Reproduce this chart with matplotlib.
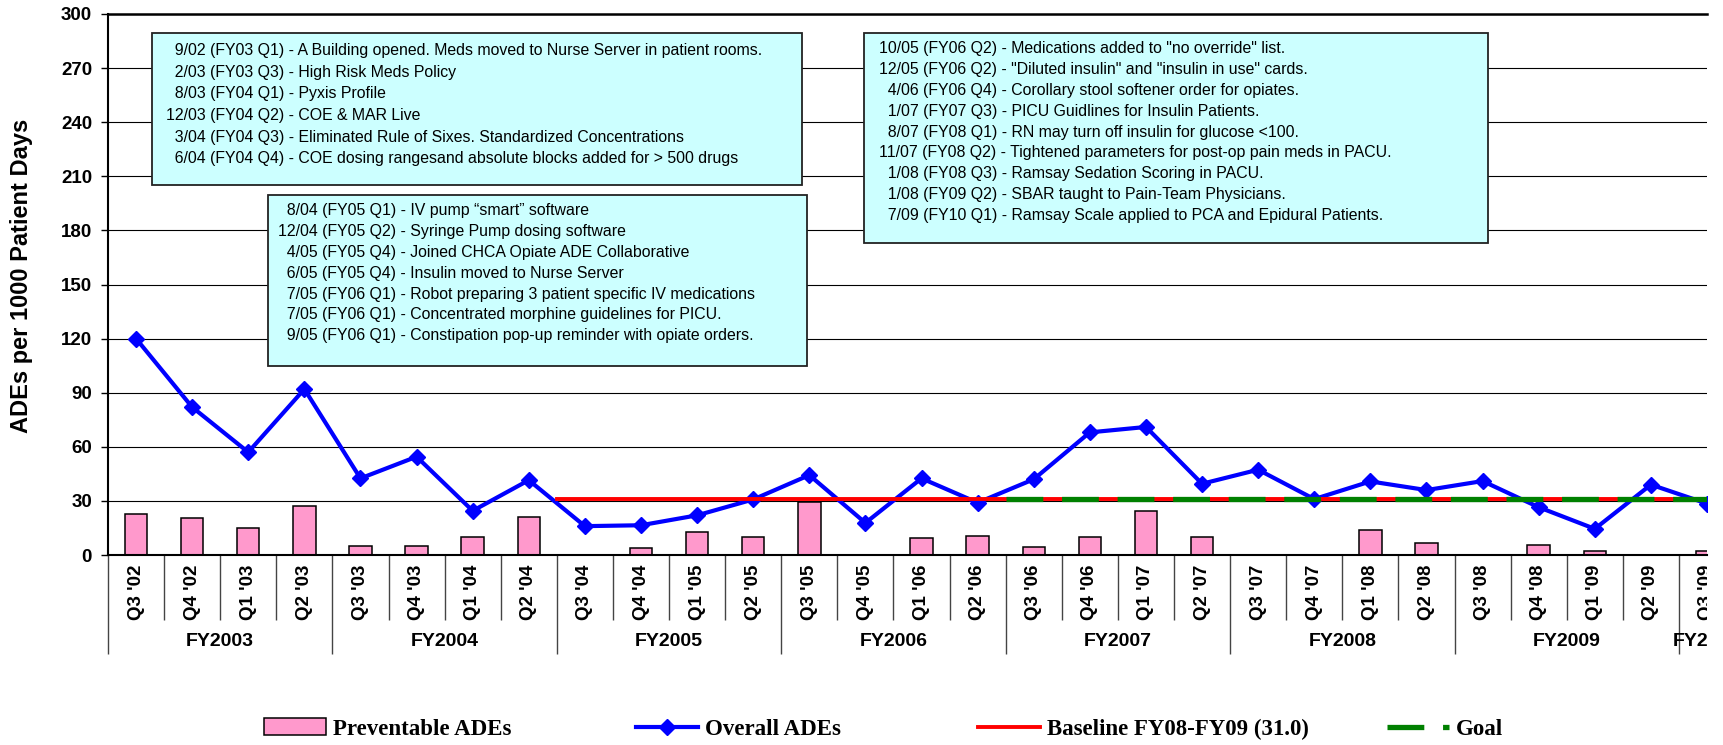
#!/usr/bin/env python3
import matplotlib
matplotlib.use("Agg")
import matplotlib.pyplot as plt
from matplotlib.patches import Rectangle
from matplotlib.transforms import Bbox, TransformedBbox
import numpy as np

# ---- data ----
quarters = ["Q3 '02", "Q4 '02", "Q1 '03", "Q2 '03",
            "Q3 '03", "Q4 '03", "Q1 '04", "Q2 '04",
            "Q3 '04", "Q4 '04", "Q1 '05", "Q2 '05",
            "Q3 '05", "Q4 '05", "Q1 '06", "Q2 '06",
            "Q3 '06", "Q4 '06", "Q1 '07", "Q2 '07",
            "Q3 '07", "Q4 '07", "Q1 '08", "Q2 '08",
            "Q3 '08", "Q4 '08", "Q1 '09", "Q2 '09",
            "Q3 '09"]
fiscal_years = (["FY2003"] * 4 + ["FY2004"] * 4 + ["FY2005"] * 4 +
                ["FY2006"] * 4 + ["FY2007"] * 4 + ["FY2008"] * 4 +
                ["FY2009"] * 4 + ["FY2010"])
overall_ades = [120, 82, 57, 92, 42.5, 54.5, 24.5, 41.5,
                16, 16.5, 22, 30.8, 44.3, 17.8, 42.5, 29,
                42, 68, 71, 39.5, 47.3, 31, 40.8, 36,
                41, 26.5, 14.5, 39, 28.5]
preventable_ades = [23, 20.3, 15, 27, 5, 5.2, 10, 20.8,
                    0, 4, 13, 10, 29.2, 0, 9.3, 10.4,
                    4.3, 10.2, 24.2, 10, 0, 0, 13.7, 6.5,
                    0, 5.6, 2, 0, 2.4]
baseline_value = 31.0
baseline_from = "Q3 '04"
goal_value = 31.0
goal_from = "Q3 '06"

notes_1 = ["  9/02 (FY03 Q1) - A Building opened. Meds moved to Nurse Server in patient rooms.",
           "  2/03 (FY03 Q3) - High Risk Meds Policy",
           "  8/03 (FY04 Q1) - Pyxis Profile",
           "12/03 (FY04 Q2) - COE & MAR Live",
           "  3/04 (FY04 Q3) - Eliminated Rule of Sixes. Standardized Concentrations",
           "  6/04 (FY04 Q4) - COE dosing rangesand absolute blocks added for > 500 drugs"]
notes_2 = ["  8/04 (FY05 Q1) - IV pump \u201csmart\u201d software",
           "12/04 (FY05 Q2) - Syringe Pump dosing software",
           "  4/05 (FY05 Q4) - Joined CHCA Opiate ADE Collaborative",
           "  6/05 (FY05 Q4) - Insulin moved to Nurse Server",
           "  7/05 (FY06 Q1) - Robot preparing 3 patient specific IV medications",
           "  7/05 (FY06 Q1) - Concentrated morphine guidelines for PICU.",
           "  9/05 (FY06 Q1) - Constipation pop-up reminder with opiate orders."]
notes_3 = ["10/05 (FY06 Q2) - Medications added to \"no override\" list.",
           "12/05 (FY06 Q2) - \"Diluted insulin\" and \"insulin in use\" cards.",
           "  4/06 (FY06 Q4) - Corollary stool softener order for opiates.",
           "  1/07 (FY07 Q3) - PICU Guidlines for Insulin Patients.",
           "  8/07 (FY08 Q1) - RN may turn off insulin for glucose <100.",
           "11/07 (FY08 Q2) - Tightened parameters for post-op pain meds in PACU.",
           "  1/08 (FY08 Q3) - Ramsay Sedation Scoring in PACU.",
           "  1/08 (FY09 Q2) - SBAR taught to Pain-Team Physicians.",
           "  7/09 (FY10 Q1) - Ramsay Scale applied to PCA and Epidural Patients."]

# ---- style ----
W, H = 1723, 745
pink = "#ff99cc"
blue = "#0000ff"
red = "#ff0000"
green = "#008000"
box_face = "#ccffff"

plt.rcParams['font.family'] = ['Liberation Sans', 'DejaVu Sans']
plt.rcParams['lines.scale_dashes'] = False

fig = plt.figure(figsize=(W / 100, H / 100), dpi=100)
# plot area in pixels: x 108..1707, y 14..555
ax = fig.add_axes([108 / W, 1 - 555 / H, (1707 - 108) / W, (555 - 14) / H])

x = np.arange(len(quarters))
bars = ax.bar(x, preventable_ades, width=0.40, color=pink, edgecolor='black',
              linewidth=1.1, zorder=2, label='Preventable ADEs')
line_overall, = ax.plot(x, overall_ades, color=blue, lw=3.0, marker='D', ms=8.5,
                        zorder=3, label='Overall ADEs')

n = len(quarters)
b0 = quarters.index(baseline_from) - 0.5
line_base, = ax.plot([b0, n - 0.5], [baseline_value, baseline_value], color=red,
                     lw=2.8, zorder=4, label='Baseline FY08-FY09 (31.0)')
g0 = quarters.index(goal_from) - 0.5
line_goal, = ax.plot([g0, n - 0.5], [goal_value, goal_value], color=green, lw=3.8,
                     linestyle=(0, (26.5, 13.5)), solid_capstyle='butt',
                     dash_capstyle='butt', zorder=5, label='Goal')

ax.set_xlim(-0.5, 28.0)
ax.set_ylim(0, 300)
ax.set_yticks(np.arange(0, 301, 30))
ax.yaxis.grid(True, color='black', lw=0.8)
ax.set_axisbelow(True)
ax.tick_params(axis='y', length=5, width=1, pad=6.5, labelsize=13.5)
for t in ax.get_yticklabels():
    t.set_fontweight('bold')

ax.spines['right'].set_visible(False)
ax.spines['top'].set_linewidth(1.8)
ax.spines['left'].set_linewidth(1.5)
ax.spines['bottom'].set_linewidth(1.5)

ax.set_ylabel('ADEs per 1000 Patient Days', fontsize=17, fontweight='bold')
ax.yaxis.set_label_coords(-0.047, 0.516)

# clip anything on the category axis at the right edge of the plot area
clipbox = TransformedBbox(Bbox([[0, -1], [1, 2]]), ax.transAxes)

# quarter labels
ax.set_xticks(x)
ax.set_xticklabels(quarters, rotation=90, fontsize=13.5, fontweight='bold')
ax.tick_params(axis='x', length=0, pad=7)
for t in ax.get_xticklabels():
    t.set_clip_box(clipbox)
    t.set_clip_on(True)

# multi level category axis: separators and fiscal year labels
xt = ax.get_xaxis_transform()
fy_names = list(dict.fromkeys(fiscal_years))
fy_edges = [fiscal_years.index(f) - 0.5 for f in fy_names]
q_edges = [i - 0.5 for i in range(1, n) if i - 0.5 not in fy_edges]
ax.vlines(q_edges, -0.120, 0, transform=xt, colors='#444444', lw=1, clip_on=False)
ax.vlines(fy_edges, -0.183, 0, transform=xt, colors='#444444', lw=1, clip_on=False)
for f in fy_names:
    idx = [i for i, v in enumerate(fiscal_years) if v == f]
    t = ax.text(np.mean(idx), -0.159, f, transform=xt, ha='center', va='center',
                fontsize=14, fontweight='bold')
    t.set_clip_box(clipbox)
    t.set_clip_on(True)

# note boxes (pixel layout of the reference)
def note_box(lines, left, top, right, bottom, text_x, first_y, step):
    fig.add_artist(Rectangle((left / W, 1 - bottom / H), (right - left) / W,
                             (bottom - top) / H, transform=fig.transFigure,
                             facecolor=box_face, edgecolor='#222222', lw=1.3,
                             zorder=6))
    for k, s in enumerate(lines):
        fig.text(text_x / W, 1 - (first_y + k * step) / H, s, fontsize=11.4,
                 ha='left', va='center', zorder=7)

note_box(notes_1, 152, 33, 802, 185, 166, 50.5, 21.7)
note_box(notes_2, 268, 195, 807, 366, 278, 211, 20.8)
note_box(notes_3, 864, 33, 1488, 243, 879, 49, 20.8)

# legend, one entry per slot as in the reference
legend_items = [(bars, 264), (line_overall, 636), (line_base, 978), (line_goal, 1387)]
for handle, px in legend_items:
    fig.legend([handle], [handle.get_label()], loc='center left',
               bbox_to_anchor=(px / W, 1 - 729 / H), frameon=False,
               borderpad=0, borderaxespad=0, handlelength=2.7,
               handletextpad=0.3,
               prop={'family': 'Liberation Serif', 'weight': 'bold', 'size': 16.5})

fig.savefig("out.png", dpi=100)
